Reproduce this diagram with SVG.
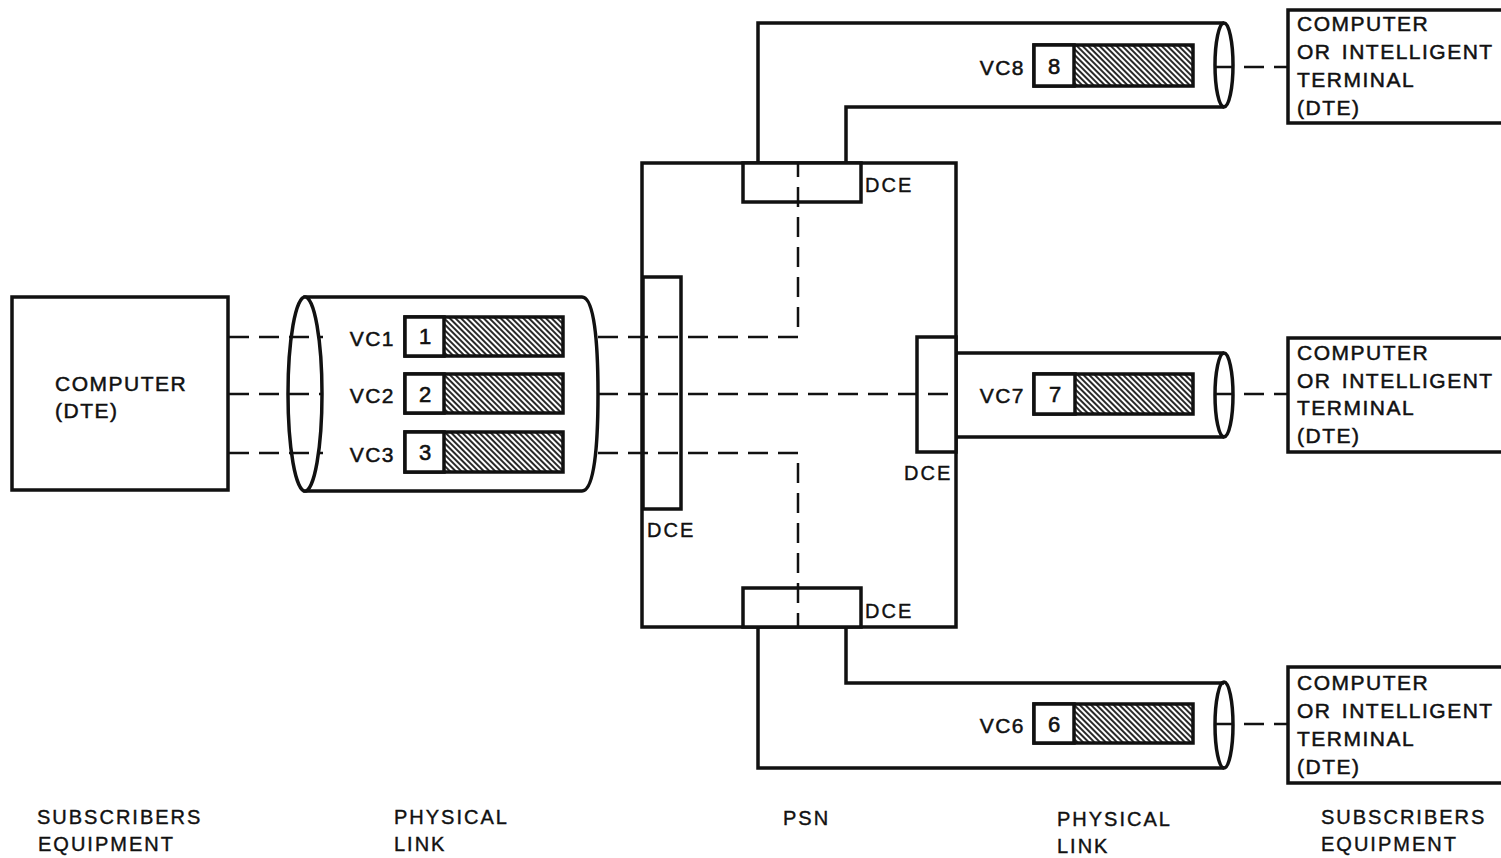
<svg xmlns="http://www.w3.org/2000/svg" width="1501" height="858" viewBox="0 0 1501 858">
<defs>
<pattern id="hatch" patternUnits="userSpaceOnUse" width="4" height="4" patternTransform="rotate(-45)">
<rect width="4" height="4" fill="#fff"/>
<line x1="1" y1="0" x2="1" y2="4" stroke="#111" stroke-width="1.8"/>
</pattern>
<style>
.bx{fill:#fff;stroke:#111;stroke-width:3.5}
.ln{fill:none;stroke:#111;stroke-width:3.5}
.dash{fill:none;stroke:#111;stroke-width:2.5;stroke-dasharray:20 10}
.t{font-family:"Liberation Sans",Arial,sans-serif;font-size:21px;letter-spacing:1.5px;fill:#111;stroke:#111;stroke-width:0.5}
.s{font-family:"Liberation Sans",Arial,sans-serif;font-size:20px;letter-spacing:2px;fill:#111;stroke:#111;stroke-width:0.4}
.n{font-family:"Liberation Sans",Arial,sans-serif;font-size:22px;fill:#111;stroke:#111;stroke-width:0.6;text-anchor:middle}
.hb{fill:url(#hatch);stroke:#111;stroke-width:3.5}
.wb{fill:#fff;stroke:#111;stroke-width:3.5}
</style>
</defs>
<rect width="1501" height="858" fill="#fff"/>

<g id="computer-left">
<rect class="bx" x="12" y="297" width="216" height="193"/>
<text class="t" x="55" y="391">COMPUTER</text>
<text class="t" x="55" y="418">(DTE)</text>
</g>

<g id="link-left">
<path class="bx" d="M305,297 H582 C594,297 598,340 598,394 C598,448 594,491 582,491 H305 Z"/>
<ellipse class="bx" cx="305" cy="394" rx="17" ry="97"/>
<rect class="hb" x="405" y="317" width="158" height="39"/>
<rect class="wb" x="405" y="317" width="39" height="39"/>
<text class="n" x="425" y="344">1</text>
<text class="t" x="395" y="346" text-anchor="end">VC1</text>
<rect class="hb" x="405" y="374" width="158" height="39"/>
<rect class="wb" x="405" y="374" width="39" height="39"/>
<text class="n" x="425" y="402">2</text>
<text class="t" x="395" y="403" text-anchor="end">VC2</text>
<rect class="hb" x="405" y="432" width="158" height="40"/>
<rect class="wb" x="405" y="432" width="39" height="40"/>
<text class="n" x="425" y="460">3</text>
<text class="t" x="395" y="462" text-anchor="end">VC3</text>
</g>

<g id="psn">
<rect class="bx" x="642" y="163" width="314" height="464"/>
</g>

<g id="link-top">
<path class="ln" d="M758,163 V23 H1224 M846,163 V107 H1224"/>
<ellipse class="ln" cx="1224" cy="65" rx="9" ry="42"/>
<rect class="hb" x="1034" y="45" width="159" height="41"/>
<rect class="wb" x="1034" y="45" width="40" height="41"/>
<text class="n" x="1054" y="74">8</text>
<text class="t" x="1025" y="75" text-anchor="end">VC8</text>
</g>

<g id="link-mid">
<path class="ln" d="M956,353 H1224 M956,437 H1224"/>
<ellipse class="ln" cx="1224" cy="395" rx="9" ry="42"/>
<rect class="hb" x="1034" y="374" width="159" height="40"/>
<rect class="wb" x="1034" y="374" width="41" height="40"/>
<text class="n" x="1055" y="402">7</text>
<text class="t" x="1025" y="403" text-anchor="end">VC7</text>
</g>

<g id="link-bottom">
<path class="ln" d="M758,627 V768 H1224 M846,627 V683 H1224"/>
<ellipse class="ln" cx="1224" cy="725" rx="9" ry="43"/>
<rect class="hb" x="1034" y="704" width="159" height="39"/>
<rect class="wb" x="1034" y="704" width="40" height="39"/>
<text class="n" x="1054" y="732">6</text>
<text class="t" x="1025" y="733" text-anchor="end">VC6</text>
</g>

<g id="dce-left">
<rect class="bx" x="643" y="277" width="38" height="232"/>
<text class="s" x="647" y="537">DCE</text>
</g>
<g id="dce-top">
<rect class="bx" x="743" y="163" width="118" height="39"/>
<text class="s" x="865" y="192">DCE</text>
</g>
<g id="dce-right">
<rect class="bx" x="917" y="337" width="39" height="115"/>
<text class="s" x="904" y="480">DCE</text>
</g>
<g id="dce-bottom">
<rect class="bx" x="743" y="588" width="118" height="39"/>
<text class="s" x="865" y="618">DCE</text>
</g>

<g id="terminal-top">
<path class="ln" d="M1510,10 H1288 V123 H1510"/>
<text class="t" x="1297" y="31">COMPUTER</text>
<text class="t" x="1297" y="59" word-spacing="3">OR INTELLIGENT</text>
<text class="t" x="1297" y="87">TERMINAL</text>
<text class="t" x="1297" y="115">(DTE)</text>
</g>
<g id="terminal-mid">
<path class="ln" d="M1510,338 H1288 V452 H1510"/>
<text class="t" x="1297" y="360">COMPUTER</text>
<text class="t" x="1297" y="388" word-spacing="3">OR INTELLIGENT</text>
<text class="t" x="1297" y="415">TERMINAL</text>
<text class="t" x="1297" y="443">(DTE)</text>
</g>
<g id="terminal-bottom">
<path class="ln" d="M1510,667 H1288 V783 H1510"/>
<text class="t" x="1297" y="690">COMPUTER</text>
<text class="t" x="1297" y="718" word-spacing="3">OR INTELLIGENT</text>
<text class="t" x="1297" y="746">TERMINAL</text>
<text class="t" x="1297" y="774">(DTE)</text>
</g>

<g id="connectors">
<path class="dash" d="M229,337 H323"/>
<path class="dash" d="M229,394 H323"/>
<path class="dash" d="M229,453 H323"/>
<path class="dash" d="M598,337 H798 V164"/>
<path class="dash" d="M598,394 H956"/>
<path class="dash" d="M598,453 H798 V627"/>
<path class="dash" d="M1214,67 H1288"/>
<path class="dash" d="M1214,394 H1288"/>
<path class="dash" d="M1214,724 H1288"/>
</g>

<g id="labels">
<text class="s" x="37" y="824">SUBSCRIBERS</text>
<text class="s" x="38" y="851">EQUIPMENT</text>
<text class="s" x="394" y="824">PHYSICAL</text>
<text class="s" x="394" y="851">LINK</text>
<text class="s" x="783" y="825">PSN</text>
<text class="s" x="1057" y="826">PHYSICAL</text>
<text class="s" x="1057" y="853">LINK</text>
<text class="s" x="1321" y="824">SUBSCRIBERS</text>
<text class="s" x="1321" y="851">EQUIPMENT</text>
</g>
</svg>
